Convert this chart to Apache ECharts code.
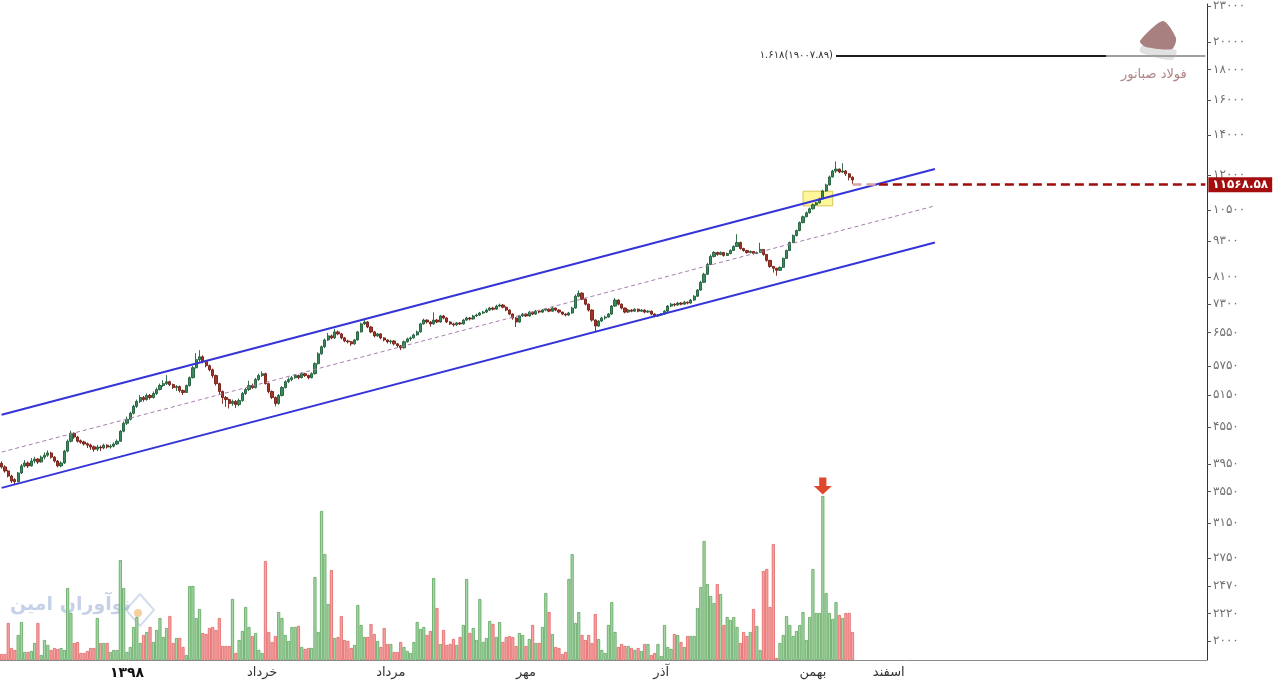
<!DOCTYPE html>
<html>
<head>
<meta charset="utf-8">
<title>فولاد صبانور</title>
<script src="https://cdn.jsdelivr.net/npm/echarts@6/dist/echarts.min.js"></script>
<style>
  html, body { margin: 0; padding: 0; background: #fff; }
  #grafica { width: 1280px; height: 687px; }
</style>
</head>
<body>
<div id="grafica"></div>
<script>
// روزهای معاملاتی + جای خالی آینده در سمت راست
let slotCount = 366;

let monthTicks = [38, 79, 118, 159, 200, 246, 269];
let monthNames = ['1398', 'خرداد', 'مرداد', 'مهر', 'آذر', 'بهمن', 'اسفند'];

let priceTicks = [2000, 2220, 2470, 2750, 3150, 3550, 3950, 4550, 5150, 5750, 6550,
  7300, 8100, 9300, 10500, 12000, 14000, 16000, 18000, 20000, 23000];

// [open, close, low, high]
let candles = [
  [3960,3905,3880,3990],[3905,3845,3820,3930],[3845,3770,3750,3860],[3770,3700,3670,3790],[3720,3690,3650,3740],
  [3690,3815,3680,3830],[3815,3920,3800,3950],[3920,3965,3900,4010],[3965,3920,3890,3990],[3920,3995,3910,4040],
  [3995,4025,3960,4060],[4025,3980,3950,4040],[3980,4055,3970,4080],[4055,4085,4020,4130],[4085,4120,4060,4160],
  [4120,4055,4030,4140],[4055,3995,3970,4070],[3995,3920,3900,4010],[3920,3965,3900,3990],[3965,4150,3950,4170],
  [4150,4310,4130,4340],[4310,4445,4290,4490],[4445,4380,4350,4460],[4380,4310,4290,4400],[4320,4295,4270,4340],
  [4300,4265,4240,4320],[4270,4245,4200,4290],[4250,4215,4170,4270],[4220,4180,4140,4240],[4180,4215,4150,4250],
  [4215,4200,4150,4240],[4200,4245,4180,4270],[4245,4215,4190,4260],[4215,4230,4190,4260],[4230,4265,4210,4290],
  [4265,4310,4250,4340],[4310,4480,4300,4500],[4480,4620,4460,4650],[4620,4690,4590,4740],[4690,4800,4670,4830],
  [4800,4930,4780,4960],[4930,5025,4900,5060],[5025,5100,4990,5150],[5100,5060,5020,5130],[5060,5140,5040,5180],
  [5140,5100,5060,5170],[5100,5180,5080,5220],[5180,5260,5150,5300],[5260,5340,5240,5380],[5340,5380,5310,5450],
  [5380,5420,5350,5560],[5420,5360,5330,5440],[5360,5300,5270,5380],[5300,5320,5230,5350],[5320,5240,5200,5340],
  [5240,5200,5150,5260],[5200,5340,5190,5360],[5340,5505,5320,5530],[5505,5720,5490,5760],[5720,5900,5700,6050],
  [5900,5965,5850,6120],[5965,5855,5820,6000],[5855,5765,5730,5880],[5765,5675,5640,5790],[5675,5550,5500,5700],
  [5550,5380,5340,5570],[5380,5220,5150,5400],[5220,5100,4980,5240],[5100,5060,4920,5130],[5060,4985,4890,5080],
  [4985,5025,4940,5060],[5025,4965,4900,5050],[4965,5040,4930,5080],[5040,5180,5020,5210],[5180,5260,5150,5290],
  [5260,5340,5230,5440],[5340,5300,5270,5380],[5300,5465,5280,5500],[5465,5550,5440,5590],[5550,5590,5520,5640],
  [5590,5380,5360,5610],[5380,5220,5180,5400],[5220,5100,5070,5240],[5100,4985,4930,5120],[4985,5140,4960,5170],
  [5140,5300,5120,5330],[5300,5420,5280,5450],[5420,5465,5390,5510],[5465,5505,5430,5540],[5505,5550,5480,5580],
  [5550,5505,5470,5570],[5505,5590,5490,5620],[5590,5550,5520,5610],[5550,5505,5470,5570],[5505,5590,5490,5620],
  [5590,5810,5570,5840],[5810,6035,5790,6070],[6035,6200,6010,6230],[6200,6365,6170,6400],[6365,6465,6340,6540],
  [6465,6415,6380,6500],[6415,6565,6390,6640],[6565,6515,6480,6600],[6515,6415,6380,6540],[6415,6340,6310,6440],
  [6340,6320,6280,6370],[6320,6270,6220,6340],[6270,6365,6250,6390],[6365,6565,6350,6590],[6565,6770,6550,6800],
  [6770,6820,6740,6900],[6820,6690,6660,6840],[6690,6565,6530,6710],[6565,6465,6430,6590],[6465,6515,6440,6540],
  [6515,6415,6380,6530],[6415,6365,6330,6430],[6365,6320,6280,6380],[6320,6340,6260,6370],[6340,6270,6230,6360],
  [6270,6225,6180,6290],[6225,6175,6120,6240],[6175,6320,6160,6350],[6320,6390,6300,6420],[6390,6415,6340,6450],
  [6415,6490,6400,6520],[6490,6565,6470,6600],[6565,6770,6550,6800],[6770,6870,6750,6910],[6870,6820,6780,6890],
  [6820,6770,6700,6840],[6770,6870,6750,7080],[6870,6820,6790,6900],[6820,6980,6800,7010],[6980,6925,6890,7010],
  [6925,6820,6790,6950],[6820,6770,6740,6840],[6770,6745,6700,6800],[6745,6795,6720,6820],[6795,6770,6740,6820],
  [6770,6870,6750,6900],[6870,6925,6850,6960],[6925,6900,6860,6950],[6900,6980,6880,7010],[6980,7005,6950,7040],
  [7005,7060,6980,7090],[7060,7085,7030,7120],[7085,7140,7060,7180],[7140,7195,7110,7230],[7195,7165,7130,7230],
  [7165,7250,7150,7290],[7250,7280,7220,7320],[7280,7220,7190,7310],[7220,7140,7110,7240],[7140,7030,7000,7160],
  [7030,6925,6880,7050],[6925,6820,6690,6950],[6820,6980,6800,7010],[6980,7030,6950,7060],[7030,6980,6950,7050],
  [6980,7085,6960,7120],[7085,7030,7000,7100],[7030,7110,7010,7140],[7110,7085,7050,7130],[7085,7140,7060,7170],
  [7140,7165,7110,7200],[7165,7110,7080,7180],[7110,7195,7090,7230],[7195,7140,7110,7210],[7140,7085,7050,7160],
  [7085,7030,7000,7100],[7030,7005,6970,7050],[7005,7060,6980,7090],[7060,7195,7040,7230],[7195,7530,7180,7580],
  [7530,7620,7500,7700],[7620,7445,7420,7650],[7445,7305,7270,7470],[7305,7140,7100,7320],[7140,6870,6830,7160],
  [6870,6715,6580,6890],[6715,6845,6690,6870],[6845,6925,6820,6960],[6925,6950,6880,6990],[6950,7030,6930,7060],
  [7030,7250,7010,7280],[7250,7420,7230,7480],[7420,7305,7270,7440],[7305,7195,7160,7320],[7195,7085,7050,7210],
  [7085,7140,7060,7170],[7140,7110,7080,7160],[7110,7165,7090,7190],[7165,7110,7080,7180],[7110,7140,7090,7170],
  [7140,7085,7050,7160],[7085,7110,7060,7140],[7110,7030,7000,7130],[7030,6980,6940,7050],[6980,7005,6950,7030],
  [7005,7030,6980,7060],[7030,7110,7010,7140],[7110,7250,7090,7280],[7250,7305,7220,7340],[7305,7280,7240,7330],
  [7280,7335,7260,7370],[7335,7305,7270,7360],[7305,7360,7290,7400],[7360,7335,7300,7380],[7335,7420,7320,7450],
  [7420,7530,7400,7560],[7530,7710,7510,7740],[7710,7945,7690,7990],[7945,8195,7920,8240],[8195,8510,8170,8560],
  [8510,8775,8490,8840],[8775,8910,8740,8960],[8910,8845,8800,8940],[8845,8910,8820,8950],[8910,8810,8770,8930],
  [8810,8875,8790,8910],[8875,8980,8850,9020],[8980,9120,8960,9160],[9120,9260,9100,9560],[9260,9050,9010,9290],
  [9050,8980,8940,9070],[8980,8910,8870,9000],[8910,8945,8880,8980],[8945,8875,8840,8960],[8875,8910,8850,8940],
  [8910,9015,8890,9250],[9015,8845,8800,9030],[8845,8645,8600,8860],[8645,8445,8400,8660],[8445,8385,8250,8460],
  [8385,8320,8150,8400],[8320,8415,8300,8440],[8415,8710,8400,8740],[8710,8980,8690,9010],[8980,9260,8960,9290],
  [9260,9510,9240,9550],[9510,9695,9480,9730],[9695,9995,9670,10040],[9995,10225,9970,10270],[10225,10380,10200,10430],
  [10380,10540,10350,10590],[10540,10705,10510,10750],[10705,10785,10670,10830],[10785,10950,10760,11000],[10950,11290,10930,11340],
  [11290,11555,11260,11610],[11555,11915,11530,11980],[11915,12190,11890,12250],[12190,12280,12100,12650],[12280,12145,12090,12310],
  [12145,12190,12100,12560],[12190,12060,11960,12240],[12060,11900,11760,12090],[11900,11780,11600,11950]
];

let volumes = [
  6,6,37,12,10,25,38,8,8,9, 17,37,5,20,15,10,12,11,12,10,
  72,47,17,18,7,7,9,12,12,42, 17,17,17,8,10,10,100,72,8,13,
  33,43,17,25,28,33,18,30,42,23, 32,44,17,22,22,13,5,74,74,42,
  51,27,26,32,33,30,42,14,14,14, 61,7,20,29,53,33,24,27,10,7,
  99,28,18,24,48,42,25,19,33,33, 34,13,11,12,12,83,28,149,106,56,
  90,22,23,44,20,19,12,15,55,35, 23,23,36,26,19,13,32,16,16,8,
  8,18,13,9,7,18,38,31,33,25, 29,82,52,16,30,15,16,21,15,23,
  35,81,27,32,20,61,18,22,39,36, 23,38,18,23,24,23,14,27,25,14,
  21,35,17,17,33,67,48,26,13,12, 6,8,81,106,37,48,25,20,25,17,
  46,21,10,7,35,58,28,13,16,14, 14,12,10,12,9,16,16,5,7,16,
  4,35,13,11,26,25,18,13,24,24, 24,52,73,119,76,64,57,76,66,35,
  43,40,43,33,17,28,24,28,51,34, 10,89,91,53,116,2,17,25,44,35,
  24,29,35,48,20,43,91,47,47,164, 67,47,41,58,45,42,47,47,28
];

// کانال صعودی: [اندیس روز, قیمت]
let channelUpper = [[0, 4772], [283, 12284]];
let channelMid = [[0, 4134], [283, 10664]];
let channelLower = [[0, 3603], [283, 9257]];

let fibRatio = 1.618;
let fibPrice = 19007.89;
let fibSpan = [253, 335, 365];

let lastPrice = 11568.58;
let lastSpan = [258, 266, 365];

let breakoutBox = [[243, 11280], [252, 10660]];

function aFarsi(s) {
  return String(s).replace(/\d/g, d => '۰۱۲۳۴۵۶۷۸۹'[d]);
}

let categorias = [];
for (let i = 0; i < slotCount; i++) {
  let k = monthTicks.indexOf(i);
  categorias.push(k >= 0 ? monthNames[k] : '');
}

let volData = volumes.map((v, i) => {
  let sube = candles[i][1] >= candles[i][0];
  return {
    value: v,
    itemStyle: sube
      ? { color: '#a3d8a3', borderColor: '#5fa35f' }
      : { color: '#f6a3a3', borderColor: '#e26464' }
  };
});
let picoVol = volumes.indexOf(Math.max(...volumes));

let fuente = '"DejaVu Sans", sans-serif';
let esTick = (i) => monthTicks.indexOf(i) >= 0;

let chartDom = document.getElementById('grafica');
let myChart = echarts.init(chartDom, null, { renderer: 'canvas' });

let option = {
  animation: false,
  backgroundColor: '#fff',
  textStyle: { fontFamily: fuente },
  grid: [
    { left: 0, right: 73, top: 0, bottom: 27 },
    { left: 0, right: 73, top: 470, bottom: 27 }
  ],
  xAxis: [
    { type: 'category', gridIndex: 0, data: categorias, boundaryGap: true, show: false },
    {
      type: 'category', gridIndex: 1, data: categorias, boundaryGap: true,
      axisLine: { lineStyle: { color: '#8a8a8a', width: 1 } },
      axisTick: { interval: esTick, alignWithLabel: true, length: 4, lineStyle: { color: '#8a8a8a' } },
      axisLabel: {
        interval: esTick,
        color: '#333',
        fontSize: 13,
        margin: 6,
        fontFamily: fuente,
        formatter: (v, i) => i === monthTicks[0] ? '{y|' + aFarsi(v) + '}' : v,
        rich: { y: { fontWeight: 'bold', fontSize: 14, color: '#111', fontFamily: fuente } }
      },
      splitLine: { show: false }
    }
  ],
  yAxis: [
    {
      type: 'log', gridIndex: 0, position: 'right',
      min: 1858, max: 23180,
      axisLine: { show: true, lineStyle: { color: '#333', width: 1 } },
      axisTick: { show: true, customValues: priceTicks, length: 4, lineStyle: { color: '#555' } },
      axisLabel: {
        customValues: priceTicks,
        color: '#707070', fontSize: 12, margin: 6, fontFamily: fuente,
        formatter: (v) => aFarsi(v)
      },
      splitLine: { show: false }
    },
    { type: 'value', gridIndex: 1, min: 0, max: 190, show: false }
  ],
  graphic: [
    {
      type: 'text', left: 10, top: 596, z: 0, silent: true,
      style: { text: 'نوآوران امین', font: 'bold 19px ' + fuente, fill: 'rgba(150,172,212,0.55)' }
    },
    {
      type: 'polyline', z: 0, silent: true,
      shape: { points: [[140, 594], [126, 610], [140, 626], [154, 610], [140, 594]] },
      style: { stroke: 'rgba(160,180,215,0.45)', lineWidth: 2, fill: null }
    },
    {
      type: 'circle', z: 0, silent: true,
      shape: { cx: 138, cy: 613, r: 4 },
      style: { fill: 'rgba(240,170,80,0.55)' }
    },
    {
      type: 'polygon', z: 0, silent: true,
      shape: { points: [[1140, 52], [1172, 60], [1176, 50], [1144, 44]], smooth: 0.3 },
      style: { fill: 'rgba(200,200,200,0.55)' }
    },
    {
      type: 'polygon', z: 0, silent: true,
      shape: { points: [[1140, 41], [1163, 21], [1176, 38], [1172, 49], [1146, 47]], smooth: 0.25 },
      style: { fill: '#a88080' }
    },
    {
      type: 'text', left: 1121, top: 68, z: 0, silent: true,
      style: { text: 'فولاد صبانور', font: '13px ' + fuente, fill: '#b08585' }
    }
  ],
  series: [
    {
      name: 'volumen', type: 'bar', xAxisIndex: 1, yAxisIndex: 1,
      data: volData, barWidth: '94%', barGap: '0%',
      itemStyle: { borderWidth: 0.8 },
      markPoint: {
        silent: true,
        symbol: 'path://M3,0 L7,0 L7,5 L10,5 L5,10 L0,5 L3,5 Z',
        symbolSize: [18, 17],
        symbolOffset: [0, -10],
        itemStyle: { color: '#e0482e' },
        label: { show: false },
        data: [{ coord: [picoVol, volumes[picoVol]] }]
      }
    },
    {
      name: 'canal', type: 'line', xAxisIndex: 0, yAxisIndex: 0,
      data: channelUpper, symbol: 'none', silent: true,
      lineStyle: { color: '#3434d8', width: 2 }
    },
    {
      name: 'canal-medio', type: 'line', xAxisIndex: 0, yAxisIndex: 0,
      data: channelMid, symbol: 'none', silent: true,
      lineStyle: { color: '#a77fae', width: 1, type: [4, 3] }
    },
    {
      name: 'canal-bajo', type: 'line', xAxisIndex: 0, yAxisIndex: 0,
      data: channelLower, symbol: 'none', silent: true,
      lineStyle: { color: '#3434d8', width: 2 }
    },
    {
      name: 'precio', type: 'candlestick', xAxisIndex: 0, yAxisIndex: 0,
      data: candles, barWidth: '82%',
      itemStyle: {
        color: '#3a8a5c', color0: '#a3352a',
        borderColor: '#1f5e3a', borderColor0: '#741c13', borderWidth: 0.9
      },
      markArea: {
        silent: true,
        itemStyle: { color: 'rgba(255,242,110,0.7)', borderColor: '#d6c85a', borderWidth: 1 },
        data: [[{ coord: breakoutBox[0] }, { coord: breakoutBox[1] }]]
      },
      markLine: {
        silent: true,
        symbol: ['none', 'none'],
        data: [
          [
            {
              coord: [fibSpan[0], fibPrice],
              lineStyle: { color: '#1e1e1e', width: 2, type: 'solid' },
              label: {
                show: true, position: 'start', distance: 3,
                formatter: aFarsi(fibRatio + '(' + fibPrice + ')'),
                color: '#333', fontSize: 10, fontFamily: fuente
              }
            },
            { coord: [fibSpan[1], fibPrice] }
          ],
          [
            { coord: [fibSpan[1], fibPrice], lineStyle: { color: '#a0a0a0', width: 2, type: 'solid' }, label: { show: false } },
            { coord: [fibSpan[2], fibPrice] }
          ],
          [
            { coord: [lastSpan[0], lastPrice], lineStyle: { color: '#d9a3a3', width: 2.5, type: [9, 5] }, label: { show: false } },
            { coord: [lastSpan[1], lastPrice] }
          ],
          [
            {
              coord: [lastSpan[1], lastPrice],
              lineStyle: { color: '#9e0b0b', width: 2.5, type: [9, 5] },
              label: {
                show: true, position: 'end', distance: 3,
                formatter: aFarsi(lastPrice),
                color: '#fff', backgroundColor: '#a30d0d',
                padding: [2, 4, 1, 4], fontSize: 12, fontWeight: 'bold', fontFamily: fuente
              }
            },
            { coord: [lastSpan[2], lastPrice] }
          ]
        ]
      }
    }
  ]
};

myChart.setOption(option);
</script>
</body>
</html>
